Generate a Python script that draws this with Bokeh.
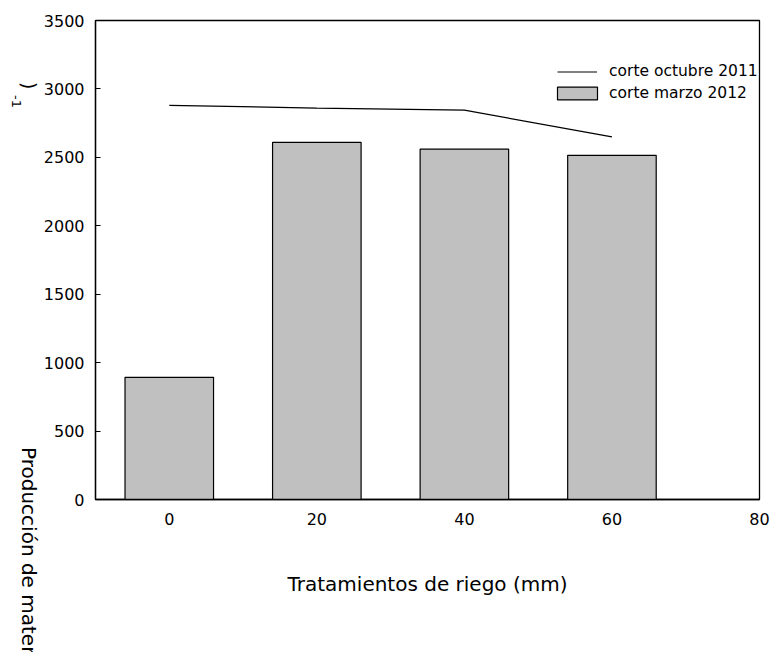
from bokeh.plotting import figure
from bokeh.models import Legend, LegendItem, FixedTicker, Div
from bokeh.layouts import row
from bokeh.embed import file_html
from bokeh.resources import INLINE

# Data
riego = [0, 20, 40, 60]
marzo_2012 = [893, 2610, 2560, 2515]
octubre_2011 = [2880, 2860, 2845, 2650]
x_ticks = [0, 20, 40, 60, 80]
y_ticks = [0, 500, 1000, 1500, 2000, 2500, 3000, 3500]
y_label_parts = ["Producción de materia seca (kg ha", ")", "-1"]

FONT = "DejaVu Sans"
TOTAL_W, TOTAL_H = 772, 652
LEFT_W = 40


def rotated_span(text, left, top, size):
    # clockwise rotated text (reads top to bottom), as in the original figure
    return ('<span style="position:absolute;left:%spx;top:%spx;'
            'transform-origin:0 0;transform:rotate(90deg);white-space:nowrap;'
            "font-family:'%s';font-size:%spx;line-height:%spx;color:black;\">"
            '%s</span>' % (left, top, FONT, size, size, text))


html = ('<div style="position:relative;width:%dpx;height:%dpx;overflow:hidden;">'
        % (LEFT_W, TOTAL_H)
        + rotated_span(y_label_parts[0], 39, 447, 20)
        + rotated_span(y_label_parts[1], 37.7, 82.3, 19)
        + rotated_span(y_label_parts[2], 23.3, 95, 13)
        + '</div>')
ylab = Div(text=html, width=LEFT_W, height=TOTAL_H, margin=0)

p = figure(width=TOTAL_W - LEFT_W, height=TOTAL_H, x_range=(-10, 80),
           y_range=(0, 3500), output_backend="svg", toolbar_location=None,
           min_border_left=95 - LEFT_W, min_border_right=TOTAL_W - 759,
           min_border_top=20, min_border_bottom=TOTAL_H - 499, margin=0)
p.grid.visible = False
p.outline_line_color = "black"
p.outline_line_width = 1.3

bars = p.vbar(x=riego, top=marzo_2012, width=12, bottom=0,
              fill_color="#c0c0c0", line_color="black", line_width=1.2)
line = p.line(riego, octubre_2011, line_color="black", line_width=1.2)

p.xaxis.ticker = FixedTicker(ticks=x_ticks)
p.yaxis.ticker = FixedTicker(ticks=y_ticks)
for ax in (p.xaxis[0], p.yaxis[0]):
    ax.axis_line_color = "black"
    ax.axis_line_width = 1.3
    ax.major_label_text_font = FONT
    ax.major_label_text_font_size = "16px"
    ax.major_label_text_color = "black"
    ax.minor_tick_line_color = None
    ax.major_tick_line_color = "black"
    ax.major_tick_line_width = 1.2
p.xaxis.major_tick_in = 0
p.xaxis.major_tick_out = 0
p.xaxis.major_label_standoff = 13
p.yaxis.major_tick_in = 5
p.yaxis.major_tick_out = 0
p.yaxis.major_label_standoff = 11

p.xaxis.axis_label = "Tratamientos de riego (mm)"
p.xaxis.axis_label_text_font = FONT
p.xaxis.axis_label_text_font_size = "20px"
p.xaxis.axis_label_text_font_style = "normal"
p.xaxis.axis_label_text_color = "black"
p.xaxis.axis_label_standoff = 44

common = dict(padding=0, margin=0, spacing=0, label_height=20,
              border_line_color=None, background_fill_alpha=0,
              label_text_font=FONT, label_text_font_size="15.5px",
              label_text_color="black")
leg_line = Legend(items=[LegendItem(label="corte octubre 2011", renderers=[line])],
                  location=(462, 418), glyph_width=40, glyph_height=13,
                  label_standoff=12, **common)
leg_bar = Legend(items=[LegendItem(label="corte marzo 2012", renderers=[bars])],
                 location=(457, 396), glyph_width=50, glyph_height=16,
                 label_standoff=7, **common)
p.add_layout(leg_line)
p.add_layout(leg_bar)

layout = row(ylab, p, spacing=0)
open("out.html", "w").write(file_html(layout, INLINE))
